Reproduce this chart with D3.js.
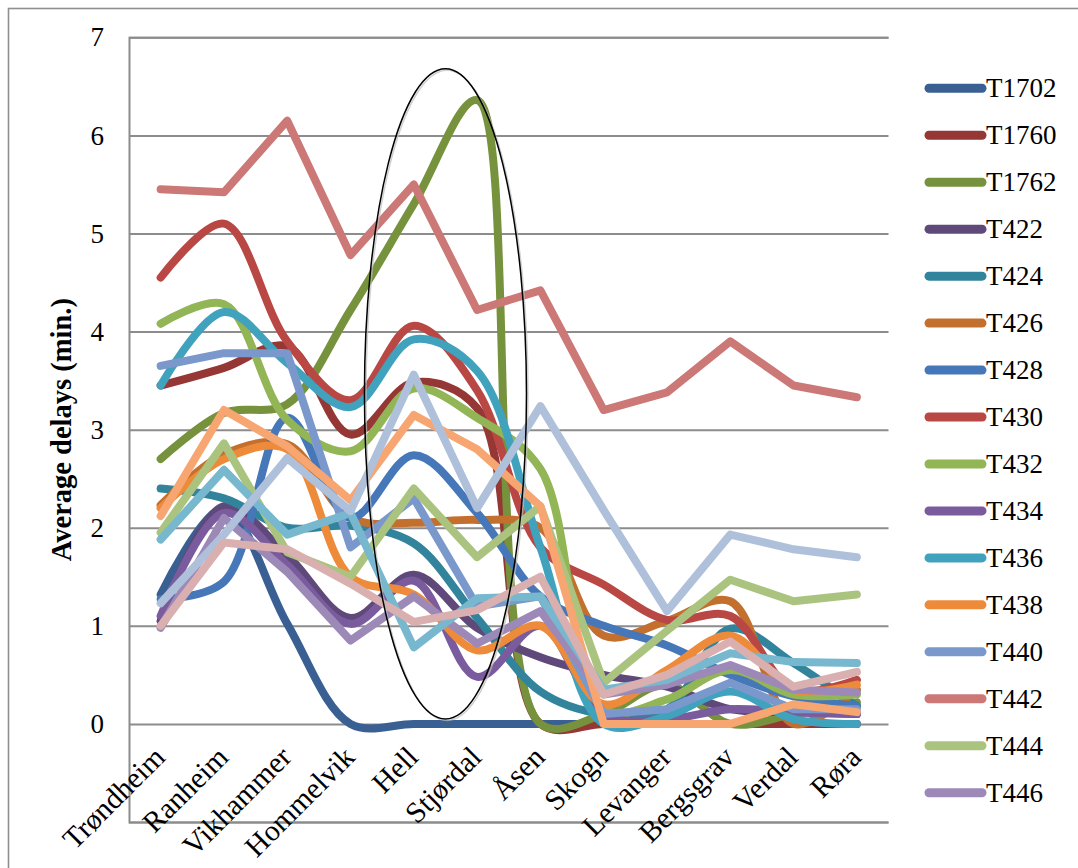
<!DOCTYPE html>
<html>
<head>
<meta charset="utf-8">
<script src="https://cdn.jsdelivr.net/npm/d3@7/dist/d3.min.js"></script>
<style>
  html, body { margin: 0; padding: 0; background: #ffffff; }
  svg { display: block; }
</style>
</head>
<body>
<svg id="chart" width="1078" height="868"></svg>
<script>
// ---- data -------------------------------------------------------------
const categories = ["Trøndheim", "Ranheim", "Vikhammer", "Hommelvik", "Hell", "Stjørdal",
                    "Åsen", "Skogn", "Levanger", "Bergsgrav", "Verdal", "Røra"];

const yTicks = [0, 1, 2, 3, 4, 5, 6, 7];

const seriesNames = ["T1702", "T1760", "T1762", "T422", "T424", "T426", "T428", "T430",
                     "T432", "T434", "T436", "T438", "T440", "T442", "T444", "T446",
                     "T448", "T450", "T452", "T454"];

const T1702 = [1.32, 2.20, 1.02, 0.00, 0.00, 0.00, 0.00, 0.00, 0.00, 0.00, 0.00, 0.00];
const T1760 = [3.45, 3.63, 3.85, 2.95, 3.48, 3.22, 0.00, 0.00, 0.00, 0.00, 0.00, 0.00];
const T1762 = [2.70, 3.17, 3.26, 4.22, 5.30, 6.36, 0.00, 0.10, 0.40, 0.00, 0.10, 0.22];
const T422  = [1.05, 2.22, 1.72, 1.08, 1.52, 0.98, 0.68, 0.50, 0.38, 0.15, 0.12, 0.10];
const T424  = [2.40, 2.30, 2.00, 2.02, 1.84, 1.08, 0.33, 0.10, 0.15, 0.97, 0.62, 0.18];
const T426  = [2.23, 2.75, 2.85, 2.10, 2.05, 2.08, 2.00, 0.90, 1.05, 1.25, 0.00, 0.35];
const T428  = [1.27, 1.45, 3.12, 2.10, 2.74, 2.15, 1.30, 1.00, 0.80, 0.50, 0.28, 0.18];
const T430  = [4.55, 5.10, 3.90, 3.30, 4.06, 3.40, 1.80, 1.42, 1.06, 1.10, 0.35, 0.45];
const T432  = [4.08, 4.28, 3.10, 2.78, 3.42, 3.12, 2.60, 0.15, 0.25, 0.55, 0.30, 0.30];
const T434  = [1.10, 2.15, 1.62, 1.02, 1.46, 0.48, 1.00, 0.10, 0.05, 0.15, 0.12, 0.10];
const T436  = [3.45, 4.20, 3.68, 3.23, 3.92, 3.60, 1.80, 0.00, 0.08, 0.33, 0.05, 0.00];
const T438  = [2.20, 2.70, 2.80, 1.50, 1.32, 0.75, 1.00, 0.20, 0.55, 0.90, 0.35, 0.40];
const T440  = [3.65, 3.78, 3.78, 1.80, 2.30, 1.20, 1.30, 0.10, 0.15, 0.42, 0.15, 0.15];
const T442  = [5.45, 5.42, 6.15, 4.78, 5.50, 4.22, 4.42, 3.20, 3.38, 3.90, 3.45, 3.33];
const T444  = [1.95, 2.86, 1.75, 1.50, 2.40, 1.70, 2.22, 0.42, 0.95, 1.47, 1.25, 1.32];
const T446  = [0.98, 2.10, 1.55, 0.85, 1.30, 0.82, 1.15, 0.30, 0.40, 0.60, 0.35, 0.32];
const T448  = [1.88, 2.59, 1.93, 2.15, 0.78, 1.28, 1.30, 0.35, 0.45, 0.72, 0.63, 0.62];
const T450  = [2.12, 3.20, 2.83, 2.28, 3.15, 2.80, 2.22, 0.00, 0.00, 0.00, 0.20, 0.12];
const T452  = [1.23, 1.93, 2.71, 2.17, 3.56, 2.20, 3.24, 2.18, 1.15, 1.93, 1.78, 1.70];
const T454  = [1.00, 1.85, 1.78, 1.43, 1.04, 1.16, 1.50, 0.30, 0.50, 0.84, 0.38, 0.53];

const seriesValues = [T1702, T1760, T1762, T422, T424, T426, T428, T430, T432, T434,
                      T436, T438, T440, T442, T444, T446, T448, T450, T452, T454];

// series drawn with smoothed lines; the rest use straight segments
const smoothedSeries = ["T1702", "T1760", "T1762", "T422", "T424", "T426", "T428", "T430",
                        "T432", "T434", "T436", "T438"];

// highlighted stretch of the line (ellipse annotation)
const highlightFrom = "Hell", highlightTo = "Stjørdal";
const highlightLow = 0.05, highlightHigh = 6.68;

// ---- style ------------------------------------------------------------
const palette = ["#3A6093", "#953735", "#76923C", "#5F497A", "#31849B", "#C3702E",
                 "#4677B8", "#B94744", "#92B556", "#7A5C9E", "#41A2BE", "#EE8B3B",
                 "#7A98CB", "#CB7876", "#AAC47F", "#9C89B7", "#78B8CF", "#F8A671",
                 "#AFC0DB", "#D9B0AF"];
const legendCount = 16;           // legend box only has room for the first 16 entries
const fontFamily = "'Liberation Serif', 'Times New Roman', serif";
const gridColor = "#8c8c8c";

// ---- layout -----------------------------------------------------------
const svg = d3.select("#chart");
const plot = { left: 129, right: 888.5, top: 37.3, bottom: 822 };

const x = d3.scaleBand().domain(categories).range([plot.left, plot.right]).paddingInner(0).paddingOuter(0);
const cx = c => x(c) + x.bandwidth() / 2;
const y = d3.scaleLinear().domain([-1, 7]).range([plot.bottom, plot.top]);

// outer frame
svg.append("rect")
  .attr("x", 8.5).attr("y", 8.5).attr("width", 1200).attr("height", 1000)
  .attr("fill", "none").attr("stroke", "#8f8f8f").attr("stroke-width", 1.6);

// horizontal gridlines (including the lower bound of the value axis)
const gridAxis = d3.axisLeft(y).tickValues(d3.range(-1, 8)).tickSize(-(plot.right - plot.left)).tickFormat("");
const gridG = svg.append("g").attr("transform", `translate(${plot.left},0)`).call(gridAxis);
gridG.select(".domain").attr("stroke", gridColor).attr("stroke-width", 2);
gridG.selectAll(".tick line").attr("stroke", gridColor).attr("stroke-width", 2);

// value labels
const yAxis = d3.axisLeft(y).tickValues(yTicks).tickSize(0).tickPadding(25).tickFormat(d3.format("d"));
const yG = svg.append("g").attr("transform", `translate(${plot.left},0)`).call(yAxis);
yG.select(".domain").remove();
yG.selectAll(".tick text")
  .attr("font-family", fontFamily).attr("font-size", 27).attr("fill", "#000");

// value axis title
svg.append("text")
  .attr("transform", `translate(61,${y(3)}) rotate(-90)`)
  .attr("text-anchor", "middle").attr("dominant-baseline", "central")
  .attr("font-family", fontFamily).attr("font-weight", "bold").attr("font-size", 28.5)
  .attr("fill", "#000").text("Average delays (min.)");

// category labels, rotated
const xAxis = d3.axisBottom(x).tickSize(0).tickPadding(0);
const xG = svg.append("g").attr("transform", `translate(0,${y(0)})`).call(xAxis);
xG.select(".domain").remove();
xG.selectAll(".tick text")
  .attr("font-family", fontFamily).attr("font-size", 29.5).attr("fill", "#000")
  .attr("text-anchor", "end")
  .attr("x", 0).attr("y", 0).attr("dy", 0)
  .attr("transform", "translate(6,35) rotate(-45)");

// ---- lines ------------------------------------------------------------
const smoothLine = d3.line()
  .x((d, i) => cx(categories[i])).y(d => y(d))
  .curve(d3.curveCatmullRom.alpha(0.5));
const straightLine = d3.line()
  .x((d, i) => cx(categories[i])).y(d => y(d))
  .curve(d3.curveLinear);

const linesG = svg.append("g").attr("fill", "none")
  .attr("stroke-width", 8).attr("stroke-linecap", "round").attr("stroke-linejoin", "round");

seriesNames.forEach((name, k) => {
  const gen = smoothedSeries.includes(name) ? smoothLine : straightLine;
  linesG.append("path")
    .attr("d", gen(seriesValues[k]))
    .attr("stroke", palette[k]);
});

// ---- highlight ellipse ---------------------------------------------------
const ex = (cx(highlightFrom) + cx(highlightTo)) / 2;
const eyTop = y(highlightHigh), eyBot = y(highlightLow);
const erx = x.bandwidth() * 1.28;
svg.append("ellipse")
  .attr("cx", ex + 1.5).attr("cy", (eyTop + eyBot) / 2 + 1.5)
  .attr("rx", erx).attr("ry", (eyBot - eyTop) / 2)
  .attr("fill", "none").attr("stroke", "#bdbdbd").attr("stroke-width", 1.6).attr("opacity", 0.7);
svg.append("ellipse")
  .attr("cx", ex).attr("cy", (eyTop + eyBot) / 2)
  .attr("rx", erx).attr("ry", (eyBot - eyTop) / 2)
  .attr("fill", "none").attr("stroke", "#000").attr("stroke-width", 1.5);

// ---- legend -----------------------------------------------------------
const legendNames = seriesNames.slice(0, legendCount);
const ly = d3.scalePoint().domain(legendNames).range([88.3, 792.7]);
const legend = svg.append("g");
legendNames.forEach((name, k) => {
  const g = legend.append("g").attr("transform", `translate(0,${ly(name)})`);
  g.append("line")
    .attr("x1", 929).attr("x2", 982).attr("y1", 0).attr("y2", 0)
    .attr("stroke", palette[k]).attr("stroke-width", 9).attr("stroke-linecap", "round");
  g.append("text")
    .attr("x", 986).attr("y", 0).attr("dominant-baseline", "central")
    .attr("font-family", fontFamily).attr("font-size", 27).attr("fill", "#000")
    .text(name);
});
</script>
</body>
</html>
